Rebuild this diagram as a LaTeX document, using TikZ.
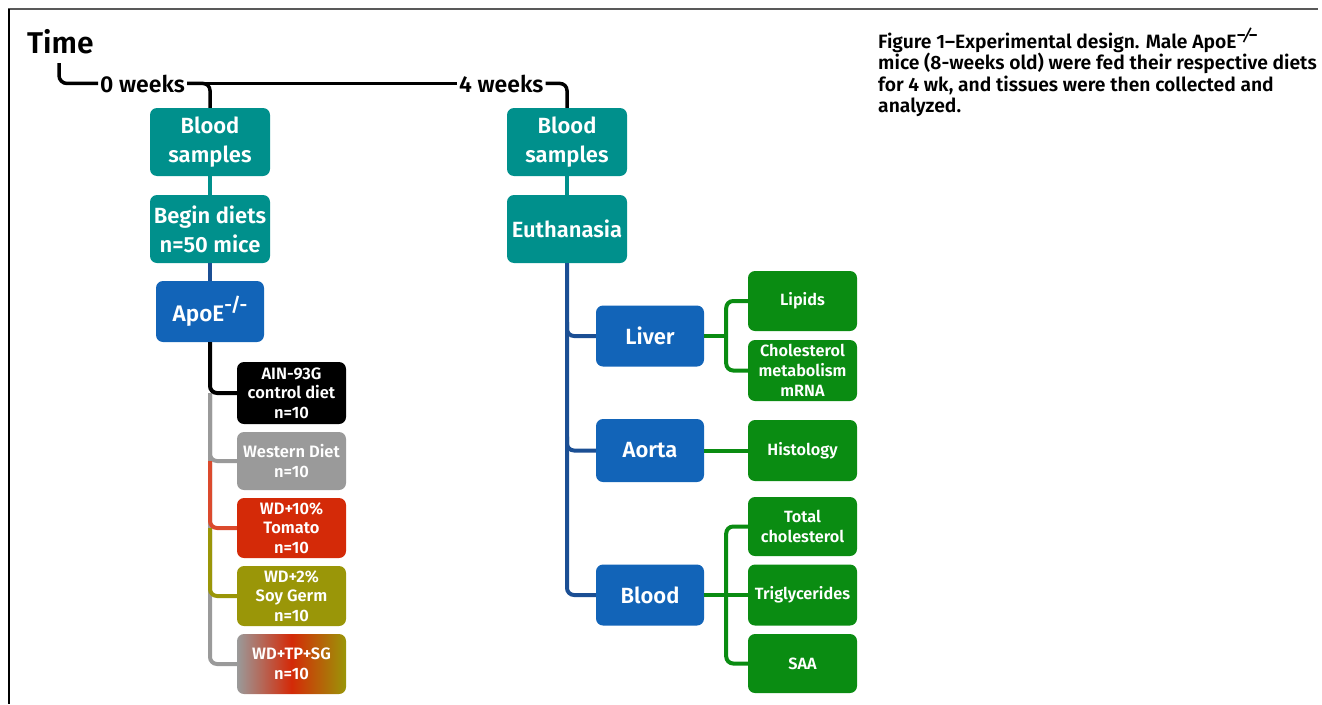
\documentclass[tikz,border=0pt]{standalone}
\usepackage{fontspec}
\setmainfont{Fira Sans}[BoldFont={Fira Sans SemiBold}]
\usetikzlibrary{calc}
\definecolor{tealc}{HTML}{00908C}
\definecolor{bluec}{HTML}{1264B8}
\definecolor{dbluec}{HTML}{1B4F94}
\definecolor{greenc}{HTML}{0A8C12}
\definecolor{grayc}{HTML}{9A9A9A}
\definecolor{redc}{HTML}{D42A08}
\definecolor{olivec}{HTML}{9A9608}
\tikzset{
  box/.style={rounded corners=7pt, inner sep=0pt, align=center, text=white, font=\bfseries},
  bigbox/.style={box, minimum width=120pt, minimum height=68pt, fill=tealc, font=\bfseries\fontsize{22}{29}\selectfont},
  organ/.style={box, minimum width=108pt, fill=bluec, font=\bfseries\fontsize{22}{28}\selectfont},
  diet/.style={box, minimum width=109pt, font=\bfseries\fontsize{16.5}{19.5}\selectfont},
  res/.style={box, minimum width=109pt, fill=greenc, font=\bfseries\fontsize{16.3}{20}\selectfont},
  conn/.style={line width=4pt, rounded corners=7pt},
  capline/.style={anchor=base west, inner sep=0pt, font=\bfseries\fontsize{19.3}{21}\selectfont}
}
\begin{document}
\begin{tikzpicture}[x=1pt,y=-1pt]
\useasboundingbox (0,0) rectangle (1322,704);
% frame
\draw[black!65, line width=1.5pt] (8,9) -- (1318,9);
\draw[black, line width=2pt] (9,9) -- (9,704);

% timeline
\node[anchor=base west, inner sep=0pt, font=\bfseries\fontsize{30}{36}\selectfont] (time) at (27,53) {Time};
\node[anchor=base west, inner sep=2pt, font=\bfseries\fontsize{23}{25}\selectfont] (w0) at (98,92) {0 weeks};
\node[anchor=base west, inner sep=2pt, font=\bfseries\fontsize{23}{25}\selectfont] (w4) at (457,92) {4 weeks};
\coordinate (tstart) at (59,63);

% left column
\node[bigbox] (bs1) at (210,142) {Blood\\samples};
\node[bigbox] (bd1) at (210,229) {Begin diets\\n=50 mice};
\node[organ, minimum height=61pt, font=\bfseries\fontsize{22.5}{28}\selectfont] (apoe) at (210,311.5) {ApoE\raisebox{10pt}{\fontsize{19}{19}\selectfont -/-}};
\node[diet, fill=black, minimum height=62pt] (ain) at (291.5,393) {AIN-93G\\control diet\\n=10};
\node[diet, fill=grayc, minimum height=58pt] (wd) at (291.5,461) {Western Diet\\n=10};
\node[diet, fill=redc, minimum height=60pt] (tom) at (291.5,528) {WD+10\%\\Tomato\\n=10};
\node[diet, fill=olivec, minimum height=60pt] (soy) at (291.5,596) {WD+2\%\\Soy Germ\\n=10};
\node[diet, left color=grayc, right color=olivec, middle color=redc, minimum height=60pt] (tpsg) at (291.5,664) {WD+TP+SG\\n=10};

% right column
\node[bigbox] (bs2) at (567,142) {Blood\\samples};
\node[bigbox] (eu) at (567,229) {Euthanasia};
\node[organ, minimum height=61pt] (liv) at (650,336) {Liver};
\node[organ, minimum height=63pt] (aor) at (650,450.5) {Aorta};
\node[organ, minimum height=61pt] (blo) at (650,595) {Blood};
\node[res, minimum height=60pt] (lip) at (802.5,301) {Lipids};
\node[res, minimum height=61pt] (chol) at (802.5,370.5) {Cholesterol\\metabolism\\mRNA};
\node[res, minimum height=61pt] (hist) at (802.5,450.5) {Histology};
\node[res, minimum height=59pt] (tc) at (802.5,526.5) {Total\\cholesterol};
\node[res, minimum height=61pt] (trig) at (802.5,595) {Triglycerides};
\node[res, minimum height=59pt] (saa) at (802.5,663.5) {SAA};

% caption
\node[capline] (c1) at (878,48) {Figure 1–Experimental design. Male ApoE\raisebox{6pt}{\fontsize{18}{18}\selectfont −⁄−}};
\node[capline] (c2) at (878,69.5) {mice (8-weeks old) were fed their respective diets};
\node[capline] (c3) at (878,91) {for 4 wk, and tissues were then collected and};
\node[capline] (c4) at (878,112.5) {analyzed.};

% connectors: timeline
\draw[line width=3.5pt, rounded corners=8pt] (tstart) |- (w0.west);
\draw[line width=3.5pt] (w0.east) -- (w4.west);
\draw[line width=3.5pt, rounded corners=7pt] (w0.east) -| (bs1.north);
\draw[line width=3.5pt, rounded corners=7pt] (w4.east) -| (bs2.north);

% left connectors
\draw[conn, tealc] (bs1.south) -- (bd1.north);
\draw[conn, dbluec] (bd1.south) -- (apoe.north);
\coordinate (lj) at (apoe.south |- ain.west);
\draw[conn, grayc] (lj) |- (tpsg.west);
\draw[conn, grayc] (lj) |- (wd.west);
\draw[conn, redc!85!white] (apoe.south |- wd.west) |- (tom.west);
\draw[conn, olivec] (apoe.south |- tom.west) |- (soy.west);
\draw[conn, black] (apoe.south) |- (ain.west);

% right connectors
\draw[conn, tealc] (bs2.south) -- (eu.north);
\draw[conn, dbluec] (eu.south) |- (blo.west);
\draw[conn, dbluec] ($(eu.south |- liv.west)+(0,-14)$) |- (liv.west);
\draw[conn, dbluec] ($(eu.south |- aor.west)+(0,-14)$) |- (aor.west);
\coordinate (gj1) at ($(liv.east)+(22,0)$);
\draw[conn, greenc] (liv.east) -- (gj1);
\draw[conn, greenc] (gj1) |- (lip.west);
\draw[conn, greenc] (gj1) |- (chol.west);
\draw[conn, greenc] (aor.east) -- (hist.west);
\coordinate (gj2) at ($(blo.east)+(22,0)$);
\draw[conn, greenc] (blo.east) -- (trig.west);
\draw[conn, greenc] (gj2) |- (tc.west);
\draw[conn, greenc] (gj2) |- (saa.west);
\end{tikzpicture}
\end{document}
